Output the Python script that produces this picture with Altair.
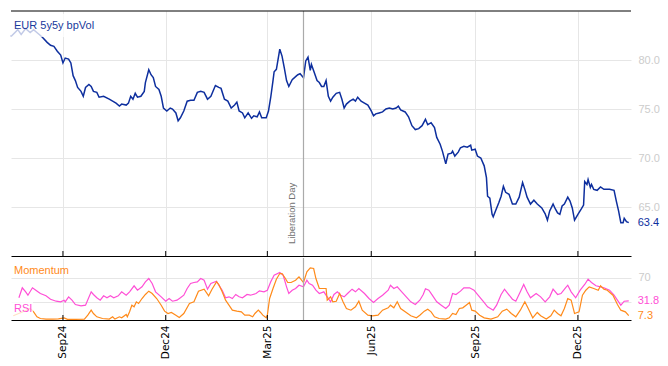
import altair as alt
import pandas as pd

START = "2024-07-17"
TITLE = "EUR 5y5y bpVol"
EVENT_DATE = "2025-04-02"
EVENT_LABEL = "Liberation Day"
TICK_MONTHS = [(2024, 9), (2024, 12), (2025, 3), (2025, 6), (2025, 9), (2025, 12)]
X_START = (2024, 7, 17)
X_END = (2026, 1, 17)

# EUR 5y5y bp vol: day offsets from START and values
main_day = [0, 6, 9, 13, 17, 20, 25, 28, 32, 35, 38, 41, 44, 46, 48, 51, 53, 55, 57, 59,
            62, 64, 66, 69, 71, 73, 76, 78, 82, 87, 90, 93, 96, 98, 102, 104, 106, 108, 110, 112,
            115, 118, 119, 122, 124, 126, 128, 131, 133, 135, 138, 141, 143, 146, 148, 150, 153, 156, 159, 162,
            165, 168, 171, 174, 177, 181, 184, 186, 189, 192, 195, 198, 200, 202, 205, 207, 210, 213, 215, 218,
            220, 222, 226, 228, 230, 232, 233, 235, 238, 240, 242, 244, 246, 249, 252, 254, 256, 259, 261, 263,
            265, 266, 268, 271, 273, 275, 277, 279, 281, 283, 285, 288, 291, 293, 295, 297, 300, 303, 305, 307,
            310, 313, 316, 319, 321, 323, 326, 329, 332, 335, 338, 341, 343, 345, 349, 352, 355, 358, 361, 364,
            367, 369, 372, 375, 377, 380, 382, 385, 387, 390, 391, 393, 396, 398, 401, 404, 407, 408, 411, 413,
            416, 419, 421, 422, 424, 426, 427, 429, 432, 434, 436, 438, 441, 444, 447, 450, 453, 455, 457, 460,
            463, 466, 470, 473, 475, 477, 480, 482, 484, 486, 488, 490, 493, 495, 497, 499, 502, 505, 507, 508,
            510, 511, 513, 514, 516, 519, 522, 525, 530, 534, 536, 538, 540, 542, 543, 545, 547]
main_val = [82.4, 83.1, 82.6, 83.2, 82.8, 83.1, 82.6, 82.3, 81.8, 81.5,
            81.4, 80.9, 80.5, 79.7, 80.2, 80.1, 79.7, 78.4, 77.9, 77.2,
            76.8, 76.3, 77.2, 77.5, 77.3, 76.8, 76.7, 76.2, 76.3, 76.0,
            75.8, 75.6, 75.3, 75.5, 75.4, 75.6, 76.3, 76.0, 76.6, 76.2,
            76.3, 76.8, 77.7, 79.0, 78.5, 78.2, 77.3, 77.0, 76.3, 75.1,
            74.8, 75.1, 75.0, 74.6, 73.8, 74.1, 74.8, 75.8, 75.9, 75.9,
            76.7, 76.8, 76.7, 76.0, 76.3, 77.4, 77.2, 77.1, 76.0, 75.8,
            75.1, 75.4, 75.7, 74.8, 74.6, 74.1, 74.6, 74.05, 74.3, 74.2,
            74.7, 74.1, 74.1, 74.8, 76.2, 77.9, 78.8, 79.05, 81.1, 80.4,
            79.2, 77.9, 77.3, 78.0, 78.3, 78.5, 78.6, 78.2, 79.9, 80.3,
            78.95, 79.55, 78.9, 77.9, 77.7, 77.3, 77.3, 77.9, 76.3, 75.8,
            76.2, 76.6, 76.7, 76.0, 75.1, 75.5, 75.8, 76.0, 75.8, 76.2,
            75.8, 75.6, 75.4, 74.8, 74.3, 74.5, 74.6, 74.7, 75.0, 75.1,
            75.0, 75.1, 75.3, 74.9, 74.7, 74.2, 73.3, 72.9, 73.0, 73.3,
            73.95, 73.4, 73.6, 73.1, 72.1, 71.4, 70.7, 69.4, 70.4, 70.5,
            70.7, 70.2, 70.6, 71.05, 71.2, 71.1, 71.3, 70.8, 70.9, 70.2,
            70.0, 69.2, 68.0, 66.1, 65.9, 64.25, 64.0, 64.6, 65.45, 66.1,
            67.1, 66.5, 66.3, 65.3, 65.3, 66.0, 67.5, 66.8, 66.0, 65.3,
            65.7, 65.3, 64.9, 64.3, 63.65, 64.6, 65.3, 64.8, 64.4, 64.25,
            65.1, 65.3, 66.0, 65.6, 64.9, 63.65, 64.25, 64.8, 65.2, 67.6,
            67.3, 67.8, 67.0, 67.3, 66.8, 66.7, 67.05, 66.8, 66.8, 66.7,
            65.6, 64.6, 63.4, 63.4, 63.85, 63.5, 63.4]

# RSI
rsi_day = [7, 10, 13, 15, 19, 22, 26, 31, 35, 40, 44, 47, 48, 51, 54, 57, 62, 66, 71, 73,
           76, 79, 82, 85, 88, 91, 95, 98, 102, 105, 109, 112, 116, 119, 122, 125, 128, 133, 137, 140,
           143, 147, 150, 153, 156, 159, 162, 165, 168, 171, 174, 177, 182, 184, 187, 190, 193, 196, 199, 202,
           205, 209, 212, 217, 220, 224, 227, 230, 233, 238, 241, 244, 246, 249, 252, 255, 259, 262, 264, 267,
           270, 273, 277, 280, 283, 286, 289, 292, 295, 298, 302, 305, 308, 313, 317, 321, 325, 329, 334, 336,
           339, 342, 346, 350, 354, 358, 362, 365, 367, 370, 373, 377, 381, 385, 388, 391, 394, 398, 401, 406,
           410, 413, 418, 422, 427, 430, 434, 437, 440, 444, 447, 451, 454, 457, 460, 465, 469, 473, 477, 480,
           484, 487, 491, 493, 496, 500, 504, 508, 511, 514, 518, 522, 525, 530, 534, 538, 540, 543, 547]
rsi_val = [36.9, 53.5, 46.8, 41.2, 53.5, 49.5, 44.0, 40.2, 34.5, 31.2,
           30.2, 32.9, 30.2, 38.5, 32.9, 25.7, 23.6, 24.6, 46.8, 42.4,
           36.9, 32.9, 40.2, 36.9, 40.2, 36.9, 40.2, 46.8, 41.2, 46.8,
           56.8, 49.5, 55.1, 63.4, 68.9, 60.6, 46.8, 38.5, 31.2, 35.7,
           31.2, 32.9, 36.9, 41.2, 52.3, 60.6, 62.3, 63.4, 68.9, 66.1,
           51.2, 60.6, 64.5, 57.8, 49.5, 36.9, 38.5, 35.7, 42.4, 38.5,
           36.9, 42.4, 41.2, 44.0, 48.5, 46.8, 49.5, 63.4, 74.4, 78.9,
           74.4, 55.1, 44.0, 49.5, 52.3, 57.8, 55.1, 66.1, 60.6, 57.8,
           49.5, 44.0, 46.8, 38.5, 30.2, 42.4, 46.8, 41.2, 38.5, 44.0,
           51.2, 46.8, 52.3, 44.0, 35.7, 29.1, 35.7, 41.2, 49.5, 57.8,
           52.3, 55.1, 46.8, 38.5, 30.2, 25.7, 32.9, 42.4, 52.0, 49.5,
           41.2, 30.2, 24.6, 19.1, 24.6, 44.0, 42.4, 47.9, 53.5, 53.5,
           49.5, 42.4, 31.2, 21.9, 16.3, 24.6, 42.4, 51.2, 44.0, 34.5,
           31.2, 46.8, 59.0, 46.8, 36.9, 44.0, 38.5, 30.2, 38.5, 51.2,
           42.4, 44.0, 53.5, 57.8, 46.8, 36.9, 49.5, 59.0, 67.8, 62.3,
           56.8, 55.1, 53.5, 49.5, 41.2, 30.2, 24.6, 31.2, 31.8]

# Momentum
mom_day = [2, 9, 17, 20, 23, 26, 31, 37, 42, 47, 50, 57, 65, 68, 71, 73, 76, 81, 87, 90,
           92, 96, 98, 102, 103, 105, 107, 109, 111, 113, 116, 119, 122, 125, 129, 133, 136, 139, 142, 146,
           149, 153, 158, 162, 166, 171, 175, 178, 182, 184, 187, 190, 193, 196, 200, 204, 207, 211, 214, 216,
           219, 221, 223, 226, 227, 229, 232, 235, 238, 240, 243, 245, 248, 252, 255, 259, 262, 265, 268, 270,
           273, 276, 279, 280, 283, 285, 288, 291, 294, 297, 301, 305, 308, 311, 316, 320, 325, 329, 334, 336,
           339, 342, 345, 350, 354, 359, 362, 366, 369, 372, 375, 379, 385, 388, 391, 394, 397, 400, 403, 406,
           408, 411, 415, 419, 425, 431, 435, 439, 443, 447, 451, 455, 458, 462, 466, 469, 474, 478, 481, 484,
           487, 490, 493, 496, 499, 503, 506, 509, 512, 516, 520, 522, 525, 528, 533, 537, 540, 544, 547]
mom_val = [7.0, 12.5, 19.1, 13.6, 5.3, 2.5, 1.5, 1.5, 2.0, 3.6,
           1.0, 1.0, 1.5, 8.0, 16.3, 10.8, 5.3, 2.5, 1.5, 5.3,
           1.5, 5.3, 3.6, 9.1, 5.3, 13.6, 24.6, 21.9, 30.2, 27.4,
           35.7, 42.4, 47.9, 44.0, 35.7, 24.6, 14.7, 10.8, 12.5, 8.0,
           4.2, 10.8, 27.4, 30.2, 47.9, 51.2, 40.2, 51.2, 63.4, 59.0,
           46.8, 32.9, 24.6, 16.3, 14.7, 13.6, 8.0, 8.0, 5.3, 10.8,
           16.3, 12.5, 8.0, 3.6, 8.0, 35.7, 52.3, 67.8, 77.2, 77.2,
           68.9, 62.3, 62.3, 66.1, 71.8, 62.3, 80.0, 86.7, 85.5, 68.9,
           52.3, 52.3, 52.3, 32.9, 38.5, 30.2, 31.2, 44.0, 30.2, 19.1,
           16.3, 21.9, 31.2, 16.3, 8.0, 7.0, 8.0, 16.3, 20.2, 24.6,
           20.2, 30.2, 19.1, 12.5, 7.0, 3.6, 8.0, 14.7, 18.0, 13.6,
           5.3, 2.5, 1.5, 3.6, 10.8, 9.1, 19.1, 20.2, 24.6, 29.1,
           16.3, 14.7, 8.0, 3.6, 1.5, 5.3, 14.7, 18.0, 10.8, 5.3,
           16.3, 30.2, 19.1, 3.6, 12.5, 7.0, 1.5, 7.0, 16.3, 10.8,
           7.0, 19.1, 35.7, 32.9, 10.8, 13.6, 41.2, 49.5, 55.1, 52.3,
           49.5, 56.8, 51.2, 49.5, 41.2, 25.7, 16.3, 13.6, 7.3]

assert len(main_day) == len(main_val)
assert len(rsi_day) == len(rsi_val)
assert len(mom_day) == len(mom_val)

BLUE = "#0e2f9e"
PINK = "#ff4fd6"
ORANGE = "#ff8a1a"
GRID = "#e6e6e6"
LIGHT = "#cccccc"
W, H_TOP, H_BOT = 620, 245, 62

base = pd.Timestamp(START)


def frame(days, vals):
    return pd.DataFrame({"date": [base + pd.Timedelta(days=int(d)) for d in days],
                         "value": vals})


main_df = frame(main_day, main_val)
rsi_df = frame(rsi_day, rsi_val)
mom_df = frame(mom_day, mom_val)
ticks_df = pd.DataFrame({"date": [pd.Timestamp(year=y, month=m, day=1) for y, m in TICK_MONTHS]})
event_df = pd.DataFrame({"date": [pd.Timestamp(EVENT_DATE)], "label": [EVENT_LABEL]})
dummy = pd.DataFrame({"a": [0]})


def last_df(df):
    d = df.iloc[[-1]].copy()
    d["label"] = [f"{v:.1f}" for v in d["value"]]
    return d


tick_vals = [alt.DateTime(year=y, month=m, date=1) for y, m in TICK_MONTHS]
xscale = alt.Scale(domain=[alt.DateTime(year=X_START[0], month=X_START[1], date=X_START[2]),
                           alt.DateTime(year=X_END[0], month=X_END[1], date=X_END[2])])

x_top = alt.X("date:T", scale=xscale,
              axis=alt.Axis(title=None, labels=False, ticks=False, domain=True,
                            domainColor="black", domainWidth=1, grid=True,
                            gridColor=GRID, values=tick_vals))
y_top = alt.Y("value:Q", scale=alt.Scale(domain=[60, 85], nice=False, zero=False),
              axis=alt.Axis(orient="right", values=[65, 70, 75, 80], format=".1f",
                            labelColor=LIGHT, ticks=False, domain=False, grid=True,
                            gridColor=GRID, title=None, labelPadding=7, labelFontSize=11,
                            labelFont="Liberation Sans"))

main_line = alt.Chart(main_df).mark_line(color=BLUE, strokeWidth=1.5).encode(x=x_top, y=y_top)
ev_rule_top = alt.Chart(event_df).mark_rule(color="#aaaaaa", strokeWidth=1.2).encode(x=x_top)
ev_text = alt.Chart(event_df).mark_text(angle=270, align="left", baseline="bottom", dx=12, dy=-6,
                                        fontSize=9.5, font="Liberation Sans",
                                        color="#707070").encode(
    x=x_top, y=alt.value(H_TOP), text="label:N")
tick_top = alt.Chart(ticks_df).mark_rule(color="black", strokeWidth=1).encode(
    x=x_top, y=alt.value(H_TOP - 5), y2=alt.value(H_TOP))
top_border = alt.Chart(dummy).mark_rule(color="black", strokeWidth=1).encode(
    x=alt.value(0), x2=alt.value(W), y=alt.value(0))
title_box = alt.Chart(dummy).mark_rect(color="white", opacity=0.75).encode(
    x=alt.value(0), x2=alt.value(86), y=alt.value(3), y2=alt.value(26))
title_text = alt.Chart(dummy).mark_text(align="left", baseline="middle", fontSize=11,
                                        font="Liberation Sans", color="#1a3a9c").encode(
    x=alt.value(3), y=alt.value(15), text=alt.value(TITLE))
main_last = alt.Chart(last_df(main_df)).mark_text(align="left", baseline="middle", dx=9,
                                                  fontSize=11, font="Liberation Sans",
                                                  color=BLUE).encode(
    x=x_top, y=y_top, text="label:N")

top = alt.layer(main_line, ev_rule_top, ev_text, tick_top, top_border, title_box,
                title_text, main_last).properties(width=W, height=H_TOP)

x_bot = alt.X("date:T", scale=xscale,
              axis=alt.Axis(title=None, format="%b%y", labelAngle=270, labelAlign="right",
                            labelBaseline="middle", ticks=False, domain=True,
                            domainColor="black", domainWidth=1, grid=True, gridColor=GRID,
                            values=tick_vals, labelFont="DejaVu Sans", labelFontSize=10.5,
                            labelColor="black", labelPadding=5))
y_bot = alt.Y("value:Q", scale=alt.Scale(domain=[0, 103], nice=False, zero=False),
              axis=alt.Axis(orient="right", values=[30, 70],
                            labelExpr="datum.value == 70 ? '70' : ''",
                            labelColor=LIGHT, ticks=False, domain=False, grid=True,
                            gridColor=GRID, title=None, labelPadding=7, labelFontSize=11,
                            labelFont="Liberation Sans"))

rsi_line = alt.Chart(rsi_df).mark_line(color=PINK, strokeWidth=1.2).encode(x=x_bot, y=y_bot)
mom_line = alt.Chart(mom_df).mark_line(color=ORANGE, strokeWidth=1.2).encode(x=x_bot, y=y_bot)
ev_rule_bot = alt.Chart(event_df).mark_rule(color="#aaaaaa", strokeWidth=1.2).encode(x=x_bot)
tick_bot = alt.Chart(ticks_df).mark_rule(color="black", strokeWidth=1).encode(
    x=x_bot, y=alt.value(H_BOT - 5), y2=alt.value(H_BOT))
rsi_box = alt.Chart(dummy).mark_rect(color="white", opacity=0.75).encode(
    x=alt.value(0), x2=alt.value(22), y=alt.value(42), y2=alt.value(H_BOT - 1))
mom_label = alt.Chart(dummy).mark_text(align="left", baseline="middle", fontSize=11,
                                       font="Liberation Sans", color=ORANGE).encode(
    x=alt.value(3), y=alt.value(13), text=alt.value("Momentum"))
rsi_label = alt.Chart(dummy).mark_text(align="left", baseline="middle", fontSize=11,
                                       font="Liberation Sans", color=PINK).encode(
    x=alt.value(3), y=alt.value(51), text=alt.value("RSI"))
rsi_last = alt.Chart(last_df(rsi_df)).mark_text(align="left", baseline="middle", dx=9,
                                                fontSize=11, font="Liberation Sans",
                                                color=PINK).encode(
    x=x_bot, y=y_bot, text="label:N")
mom_last = alt.Chart(last_df(mom_df)).mark_text(align="left", baseline="middle", dx=9,
                                                fontSize=11, font="Liberation Sans",
                                                color=ORANGE).encode(
    x=x_bot, y=y_bot, text="label:N")

bottom = alt.layer(rsi_line, mom_line, ev_rule_bot, tick_bot, rsi_box, mom_label,
                   rsi_label, rsi_last, mom_last).properties(width=W, height=H_BOT)

chart = alt.vconcat(top, bottom, spacing=0).properties(
    padding={"left": 0, "top": 2, "right": 0, "bottom": 0}
).configure_view(strokeWidth=0, strokeOpacity=0)

chart.save("out.html", embed_options={"renderer": "svg", "actions": False})
